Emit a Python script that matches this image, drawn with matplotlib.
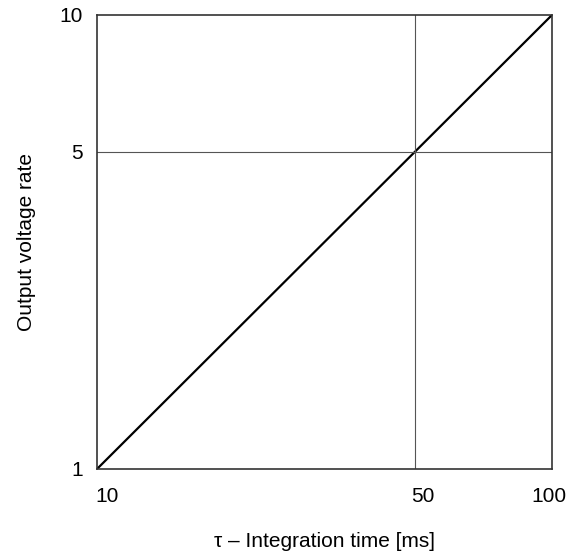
import matplotlib
matplotlib.use("Agg")
import matplotlib.pyplot as plt
from matplotlib.ticker import FixedLocator, FixedFormatter, NullLocator
from matplotlib.transforms import ScaledTranslation

plt.rcParams['font.family'] = ['Liberation Sans', 'DejaVu Sans']

x_vals = [10, 100]
y_vals = [1, 10]
x_ticks = [10, 50, 100]
x_ticklabels = ["10", "50", "100"]
y_ticks = [1, 5, 10]
y_ticklabels = ["1", "5", "10"]

fig = plt.figure(figsize=(5.77, 5.52), dpi=100)
ax = fig.add_axes([97/577, 1-469/552, (552-97)/577, (469-15)/552])
ax.set_xscale('log')
ax.set_yscale('log')
ax.set_xlim(10, 100)
ax.set_ylim(1, 10)
ax.plot(x_vals, y_vals, color='black', lw=1.6, solid_capstyle='butt')
ax.axvline(50, color='#555555', lw=0.8)
ax.axhline(5, color='#555555', lw=0.8)

ax.xaxis.set_major_locator(FixedLocator(x_ticks))
ax.xaxis.set_major_formatter(FixedFormatter(x_ticklabels))
ax.xaxis.set_minor_locator(NullLocator())
ax.yaxis.set_major_locator(FixedLocator(y_ticks))
ax.yaxis.set_major_formatter(FixedFormatter(y_ticklabels))
ax.yaxis.set_minor_locator(NullLocator())
ax.tick_params(axis='both', length=0, labelsize=15)
ax.tick_params(axis='x', pad=13)
ax.tick_params(axis='y', pad=10)
for s in ax.spines.values():
    s.set_color('#333333')
    s.set_linewidth(1.2)

# small horizontal offsets of x tick labels as in the reference
offsets_px = [10, 8, -3]
for lab, dx in zip(ax.get_xticklabels(), offsets_px):
    lab.set_transform(lab.get_transform() + ScaledTranslation(dx / 100, 0, fig.dpi_scale_trans))

ax.set_xlabel("τ – Integration time [ms]", fontsize=15, labelpad=19)
ax.set_ylabel("Output voltage rate", fontsize=15, labelpad=17)

fig.savefig("out.png", dpi=100)
